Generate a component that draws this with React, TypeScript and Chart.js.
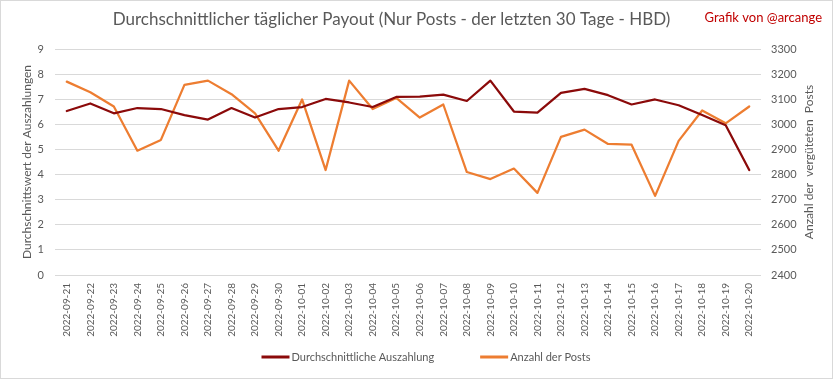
import React, { useEffect, useRef } from "react";
import { Chart, registerables } from "chart.js";

Chart.register(...registerables);

const dates = [
  "2022-09-21", "2022-09-22", "2022-09-23", "2022-09-24", "2022-09-25",
  "2022-09-26", "2022-09-27", "2022-09-28", "2022-09-29", "2022-09-30",
  "2022-10-01", "2022-10-02", "2022-10-03", "2022-10-04", "2022-10-05",
  "2022-10-06", "2022-10-07", "2022-10-08", "2022-10-09", "2022-10-10",
  "2022-10-11", "2022-10-12", "2022-10-13", "2022-10-14", "2022-10-15",
  "2022-10-16", "2022-10-17", "2022-10-18", "2022-10-19", "2022-10-20",
];

const payout = [
  6.53, 6.83, 6.44, 6.65, 6.61, 6.37, 6.19, 6.65, 6.27, 6.61,
  6.69, 7.01, 6.87, 6.69, 7.09, 7.1, 7.18, 6.93, 7.74, 6.51,
  6.47, 7.25, 7.41, 7.16, 6.79, 6.99, 6.76, 6.37, 5.96, 4.18,
];

const posts = [
  3170, 3128, 3071, 2895, 2938, 3157, 3174, 3120, 3044, 2895,
  3099, 2818, 3174, 3061, 3105, 3027, 3079, 2810, 2782, 2824,
  2727, 2950, 2979, 2922, 2919, 2715, 2934, 3055, 3004, 3071,
];

const TITLE = "Durchschnittlicher täglicher Payout (Nur Posts - der letzten 30 Tage - HBD)";
const CREDIT = "Grafik von @arcange";
const LEFT_AXIS_TITLE = "Durchschnittswert der Auszahlungen";
const RIGHT_AXIS_TITLE = "Anzahl der  vergüteten  Posts";
const SERIES_NAMES = ["Durchschnittliche Auszahlung", "Anzahl der Posts"];

const GRAY = "#595959";
const DARK_RED = "#8B0A0A";
const ORANGE = "#ED7D31";
const FONT = "Lato";

export default function App() {
  const ref = useRef<HTMLCanvasElement>(null);

  useEffect(() => {
    if (!ref.current) return;

    const textPlugin = {
      id: "texts",
      beforeDraw(chart: any) {
        const ctx = chart.ctx;
        ctx.save();
        ctx.fillStyle = "#ffffff";
        ctx.fillRect(0, 0, chart.width, chart.height);
        ctx.restore();
      },
      afterDraw(chart: any) {
        const ctx = chart.ctx;
        const area = chart.chartArea;
        ctx.save();
        ctx.fillStyle = GRAY;
        ctx.font = `17px ${FONT}`;
        ctx.textAlign = "center";
        ctx.textBaseline = "middle";
        ctx.fillText(TITLE, 391.5, 20);

        ctx.fillStyle = "#C00000";
        ctx.font = `13px ${FONT}`;
        ctx.textAlign = "right";
        ctx.fillText(CREDIT, 822, 18);

        ctx.fillStyle = GRAY;
        ctx.font = `12px ${FONT}`;
        ctx.textAlign = "center";
        ctx.translate(809, (area.top + area.bottom) / 2);
        ctx.rotate(-Math.PI / 2);
        ctx.fillText(RIGHT_AXIS_TITLE, 0, 0);
        ctx.restore();

        // legend
        ctx.save();
        ctx.font = `11px ${FONT}`;
        ctx.textBaseline = "middle";
        ctx.textAlign = "left";
        const ds = chart.data.datasets;
        const boxW = 28;
        const gapText = 2;
        const gapItem = 46;
        const widths = ds.map((d: any) => boxW + gapText + ctx.measureText(d.label).width);
        const total = widths.reduce((a: number, b: number) => a + b, 0) + gapItem * (ds.length - 1);
        let x = 426 - total / 2;
        const y = 357;
        ds.forEach((d: any, i: number) => {
          ctx.fillStyle = d.borderColor;
          ctx.fillRect(x, y - 1.5, boxW, 3);
          ctx.fillStyle = GRAY;
          ctx.fillText(d.label, x + boxW + gapText, y);
          x += widths[i] + gapItem;
        });
        ctx.restore();

        ctx.save();
        ctx.strokeStyle = "#D9D9D9";
        ctx.lineWidth = 1;
        ctx.strokeRect(0.5, 0.5, chart.width - 1, chart.height - 1);
        ctx.restore();
      },
    };

    const chart = new Chart(ref.current, {
      type: "line",
      data: {
        labels: dates,
        datasets: [
          {
            label: SERIES_NAMES[0],
            data: payout,
            borderColor: DARK_RED,
            backgroundColor: DARK_RED,
            borderWidth: 2.25,
            pointRadius: 0,
            tension: 0,
            borderJoinStyle: "round",
            borderCapStyle: "round",
            yAxisID: "y",
          },
          {
            label: SERIES_NAMES[1],
            data: posts,
            borderColor: ORANGE,
            backgroundColor: ORANGE,
            borderWidth: 2.25,
            pointRadius: 0,
            tension: 0,
            borderJoinStyle: "round",
            borderCapStyle: "round",
            yAxisID: "y1",
          },
        ],
      },
      options: {
        responsive: false,
        animation: false,
        layout: { padding: { top: 49, bottom: 0, left: 0, right: 0 } },
        font: { family: FONT },
        plugins: {
          title: { display: false },
          tooltip: { enabled: false },
          legend: { display: false },
        },
        scales: {
          x: {
            type: "category",
            offset: true,
            grid: { display: false, drawTicks: false },
            border: { display: false },
            ticks: {
              minRotation: 90,
              maxRotation: 90,
              autoSkip: false,
              padding: 8,
              color: GRAY,
              font: { family: FONT, size: 10 },
            },
            afterFit(scale: any) {
              scale.height = 104;
            },
          },
          y: {
            type: "linear",
            position: "left",
            min: 0,
            max: 9,
            ticks: {
              stepSize: 1,
              padding: 11,
              color: GRAY,
              font: { family: FONT, size: 11 },
            },
            grid: { color: "#D9D9D9", drawTicks: false, lineWidth: 1 },
            border: { display: false },
            title: {
              display: true,
              text: LEFT_AXIS_TITLE,
              color: GRAY,
              font: { family: FONT, size: 12 },
              padding: { top: 20, bottom: 0 },
            },
            afterFit(scale: any) {
              scale.width = 55;
            },
          },
          y1: {
            type: "linear",
            position: "right",
            min: 2400,
            max: 3300,
            ticks: {
              stepSize: 100,
              padding: 10,
              color: GRAY,
              font: { family: FONT, size: 11 },
              callback: (v: any) => String(v),
            },
            grid: { drawOnChartArea: false, drawTicks: false },
            border: { display: false },
            afterFit(scale: any) {
              scale.width = 72;
            },
          },
        },
      },
      plugins: [textPlugin],
    } as any);

    return () => chart.destroy();
  }, []);

  return (
    <div style={{ position: "fixed", left: 0, top: 0, width: 833, height: 379, background: "#fff" }}>
      <canvas ref={ref} width={833} height={379} style={{ display: "block" }} />
    </div>
  );
}
